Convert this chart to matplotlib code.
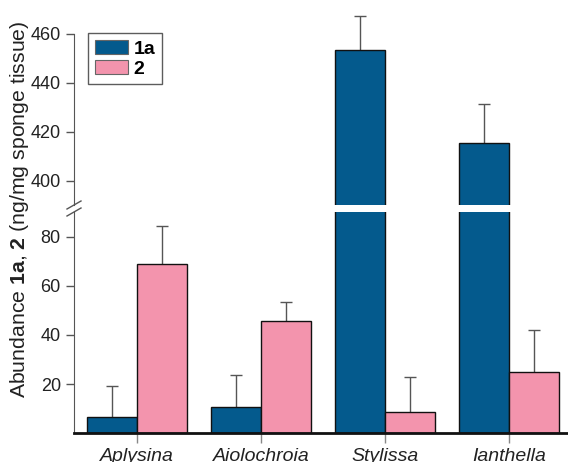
import numpy as np
import matplotlib.pyplot as plt
from matplotlib.lines import Line2D

plt.rcParams['font.family'] = ['Liberation Sans', 'DejaVu Sans']
plt.rcParams['mathtext.fontset'] = 'custom'
plt.rcParams['mathtext.bf'] = 'Liberation Sans:bold'
plt.rcParams['mathtext.rm'] = 'Liberation Sans'

# Data
genera = ["Aplysina", "Aiolochroia", "Stylissa", "Ianthella"]
val_1a = [6.5, 10.6, 453.6, 415.2]
err_1a = [12.7, 13.2, 13.8, 16.0]
val_2 = [68.7, 45.8, 8.6, 25.0]
err_2 = [15.5, 7.4, 14.4, 17.2]
series_labels = ["1a", "2"]

col_1a = "#045a8d"
col_2 = "#f394ad"
spine_col = "#555555"
err_col = "#555555"

W, H = 568, 462
fig = plt.figure(figsize=(W / 100, H / 100), dpi=100)

def px_box(x0, y_top, x1, y_bot):
    return [x0 / W, 1 - y_bot / H, (x1 - x0) / W, (y_bot - y_top) / H]

ax_top = fig.add_axes(px_box(74, 9.5, 568, 205))
ax_bot = fig.add_axes(px_box(74, 212, 568, 433.3))

x = np.arange(len(genera))
bw = 0.4

for ax in (ax_top, ax_bot):
    # error bars sit behind the bars so only the upper half shows
    ax.errorbar(x - bw / 2, val_1a, yerr=err_1a, fmt="none", zorder=1,
                ecolor=err_col, elinewidth=1, capsize=4, capthick=1)
    ax.errorbar(x + bw / 2, val_2, yerr=err_2, fmt="none", zorder=1,
                ecolor=err_col, elinewidth=1, capsize=4, capthick=1)
    ax.bar(x - bw / 2, val_1a, bw, color=col_1a, edgecolor="#111111",
           linewidth=1, zorder=2)
    ax.bar(x + bw / 2, val_2, bw, color=col_2, edgecolor="#111111",
           linewidth=1, zorder=2)
    ax.set_xlim(-0.508, 3.476)
    for s in ("top", "right"):
        ax.spines[s].set_visible(False)
    ax.spines["left"].set_color(spine_col)
    ax.tick_params(axis="y", colors=spine_col, labelcolor="#222222",
                   labelsize=13, length=6, width=1)

ax_top.set_ylim(390, 470)
ax_top.spines["left"].set_bounds(390, 460)
ax_top.set_yticks([400, 420, 440, 460])
ax_top.spines["bottom"].set_visible(False)
ax_top.set_xticks([])

ax_bot.set_ylim(0, 90)
ax_bot.set_yticks([20, 40, 60, 80])
ax_bot.spines["bottom"].set_color("#111111")
ax_bot.spines["bottom"].set_linewidth(2)
ax_bot.set_xticks(x)
ax_bot.set_xticklabels(genera, fontstyle="italic", fontsize=14, color="#222222")
ax_bot.tick_params(axis="x", colors="#888888", labelcolor="#222222",
                   length=7, width=1, pad=3.5)

# break marks on the left spine
for yc in (205, 212):
    fig.add_artist(Line2D([(74 - 7) / W, (74 + 7) / W],
                          [1 - (yc + 4) / H, 1 - (yc - 4) / H],
                          color=spine_col, lw=1))

fig.text(20 / W, 1 - 209 / H,
         r"Abundance $\mathbf{1a}$, $\mathbf{2}$ (ng/mg sponge tissue)",
         rotation=90, ha="center", va="center", fontsize=15.3, color="#222222")

handles = [plt.Rectangle((0, 0), 1, 1, facecolor=col_1a, edgecolor="#666666", lw=0.8),
           plt.Rectangle((0, 0), 1, 1, facecolor=col_2, edgecolor="#666666", lw=0.8)]
leg = fig.legend(handles, series_labels, loc="upper left",
                 bbox_to_anchor=(88 / W, 1 - 33 / H),
                 prop={"weight": "bold", "size": 14}, fancybox=False,
                 handlelength=1.7, handleheight=0.75, handletextpad=0.3,
                 labelspacing=0.1, borderpad=0.35, borderaxespad=0)
leg.get_frame().set_edgecolor("#333333")
leg.get_frame().set_linewidth(1)

fig.savefig("out.png", dpi=100)
